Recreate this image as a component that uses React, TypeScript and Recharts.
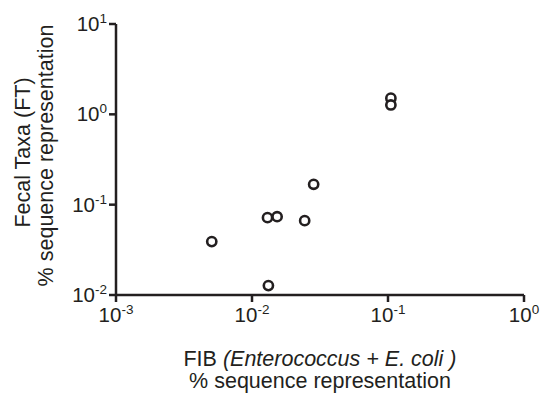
import React from 'react';
import { ScatterChart, Scatter, XAxis, YAxis, Label } from 'recharts';

// FIB (% sequence representation) on x, fecal taxa on y
const fibPct = [0.00506, 0.0132, 0.013, 0.0153, 0.0244, 0.0284, 0.105, 0.105];
const ftPct = [0.039, 0.0127, 0.0718, 0.0736, 0.0665, 0.168, 1.51, 1.27];

const xTicks = [0.001, 0.01, 0.1, 1];
const yTicks = [0.01, 0.1, 1, 10];

const ink = '#231f20';
const font = '"Liberation Sans", Arial, Helvetica, sans-serif';

const points = fibPct.map((x, i) => ({ x, y: ftPct[i] }));

const expOf = (v: number) => String(Math.round(Math.log10(v)));

const XTick = ({ x, y, payload }: any) => (
  <text x={x} y={y + 20} textAnchor="middle" fill={ink} fontFamily={font} fontSize={20.5}>
    <tspan>10</tspan>
    <tspan dy={-8} fontSize={13.5}>{expOf(payload.value)}</tspan>
  </text>
);

const YTick = ({ x, y, payload }: any) => (
  <text x={x - 2} y={y + 7} textAnchor="end" fill={ink} fontFamily={font} fontSize={20.5}>
    <tspan>10</tspan>
    <tspan dy={-8} fontSize={13.5}>{expOf(payload.value)}</tspan>
  </text>
);

const XTitle = ({ viewBox }: any) => {
  const cx = viewBox.x + viewBox.width / 2;
  return (
    <g fill={ink} fontFamily={font} fontSize={21.5}>
      <text x={cx} y={viewBox.y + 71} textAnchor="middle">
        <tspan>FIB </tspan>
        <tspan fontStyle="italic">(Enterococcus + E. coli )</tspan>
      </text>
      <text x={cx} y={viewBox.y + 93} textAnchor="middle">% sequence representation</text>
    </g>
  );
};

const YTitle = ({ viewBox }: any) => {
  const cy = viewBox.y + viewBox.height / 2;
  return (
    <g fill={ink} fontFamily={font} fontSize={21.5}>
      <text x={30} y={cy - 7} textAnchor="middle" transform={`rotate(-90 30 ${cy - 7})`}>
        Fecal Taxa (FT)
      </text>
      <text x={53} y={cy - 4} textAnchor="middle" transform={`rotate(-90 53 ${cy - 4})`}>
        % sequence representation
      </text>
    </g>
  );
};

const Ring = ({ cx, cy }: any) => (
  <circle cx={cx} cy={cy} r={4.6} fill="#fff" stroke={ink} strokeWidth={2.6} />
);

export default function App() {
  const axisStyle = { stroke: ink, strokeWidth: 2.5 };
  return (
    <div style={{ position: 'absolute', left: 0, top: 0, background: '#fff' }}>
      <ScatterChart width={544} height={393} margin={{ top: 24, right: 20, bottom: 0, left: 0 }}>
        <XAxis
          dataKey="x"
          type="number"
          scale="log"
          domain={[0.001, 1]}
          ticks={xTicks}
          interval={0}
          allowDataOverflow
          height={98}
          axisLine={axisStyle}
          tickLine={axisStyle}
          tickSize={7}
          tickMargin={0}
          tick={<XTick />}
        >
          <Label content={<XTitle />} />
        </XAxis>
        <YAxis
          dataKey="y"
          type="number"
          scale="log"
          domain={[0.01, 10]}
          ticks={yTicks}
          interval={0}
          allowDataOverflow
          width={116}
          axisLine={axisStyle}
          tickLine={axisStyle}
          tickSize={7}
          tickMargin={0}
          tick={<YTick />}
        >
          <Label content={<YTitle />} />
        </YAxis>
        <Scatter data={points} shape={<Ring />} isAnimationActive={false} />
      </ScatterChart>
    </div>
  );
}
